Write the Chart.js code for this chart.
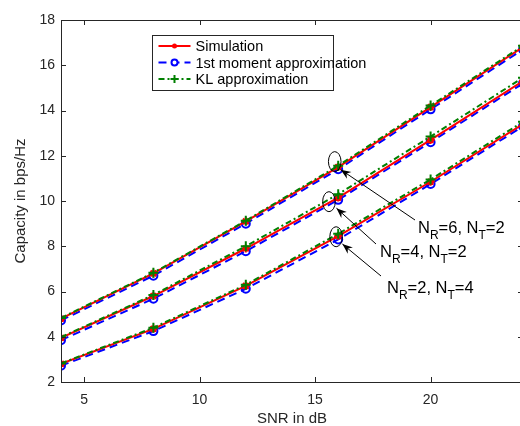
<!DOCTYPE html>
<html>
<head>
<meta charset="utf-8">
<script src="https://cdn.jsdelivr.net/npm/chart.js@4"></script>
<style>
    html, body { margin: 0; padding: 0; background: #fff; overflow: hidden; }
    #wrap { width: 520px; height: 426px; overflow: hidden; }
    #capChart { display: block; }
</style>
</head>
<body>
<div id="wrap"><canvas id="capChart" width="530" height="426" style="width:530px;height:426px"></canvas></div>
<script>
// SNR points (dB)
const snrDb = [4, 8, 12, 16, 20, 24];
const xTicks = [5, 10, 15, 20];
const yTicks = [2, 4, 6, 8, 10, 12, 14, 16, 18];

// N_R=6, N_T=2
const sim62 = [4.8, 6.8, 9.1, 11.5, 14.15, 16.8];
const mom62 = [4.72, 6.7, 9.0, 11.4, 14.05, 16.7];
const kl62 = [4.83, 6.83, 9.13, 11.56, 14.22, 16.86];
// N_R=4, N_T=2
const sim42 = [3.95, 5.8, 7.9, 10.15, 12.7, 15.3];
const mom42 = [3.85, 5.68, 7.78, 10.05, 12.6, 15.2];
const kl42 = [3.98, 5.85, 8.0, 10.3, 12.85, 15.45];
// N_R=2, N_T=4
const sim24 = [2.8, 4.35, 6.25, 8.45, 10.85, 13.4];
const mom24 = [2.72, 4.25, 6.12, 8.3, 10.75, 13.3];
const kl24 = [2.82, 4.4, 6.3, 8.55, 10.95, 13.5];

const seriesNames = ['Simulation', '1st moment approximation', 'KL approximation'];

// annotation labels: [sub R, sub T]
const annoLabels = [['6', '2'], ['4', '2'], ['2', '4']];

const FONT = '"Liberation Sans", Arial, sans-serif';

const styleSim = { borderColor: '#ff0000', backgroundColor: '#ff0000', pointStyle: 'star', pointRadius: 4, pointBorderWidth: 2, borderWidth: 2 };
const styleMom = { borderColor: '#0000ff', backgroundColor: 'rgba(0,0,0,0)', pointStyle: 'circle', pointRadius: 4, pointBorderWidth: 2, borderWidth: 2, borderDash: [8, 5] };
const styleKl = { borderColor: '#008000', backgroundColor: '#008000', pointStyle: 'cross', pointRadius: 5, pointBorderWidth: 2, borderWidth: 2, borderDash: [6, 3, 2, 3] };

const mk = (vals, style, order) => ({
    data: snrDb.map((x, i) => ({ x: x, y: vals[i] })),
    ...style,
    order: order,
    tension: 0,
    fill: false
});

const datasets = [
    mk(mom62, styleMom, 3), mk(sim62, styleSim, 2), mk(kl62, styleKl, 1),
    mk(mom42, styleMom, 3), mk(sim42, styleSim, 2), mk(kl42, styleKl, 1),
    mk(mom24, styleMom, 3), mk(sim24, styleSim, 2), mk(kl24, styleKl, 1)
];

// inward ticks + box, legend, annotations
const matlabLook = {
    id: 'matlabLook',
    afterDatasetsDraw(chart) {
        const { ctx, chartArea: a, scales } = chart;
        const xs = scales.x, ys = scales.y;
        ctx.save();
        ctx.strokeStyle = '#262626';
        ctx.lineWidth = 1;
        ctx.strokeRect(a.left + 0.5, a.top + 0.5, a.right - a.left, a.bottom - a.top);
        ctx.beginPath();
        xTicks.forEach(v => {
            const px = Math.round(xs.getPixelForValue(v)) + 0.5;
            ctx.moveTo(px, a.bottom); ctx.lineTo(px, a.bottom - 5);
            ctx.moveTo(px, a.top); ctx.lineTo(px, a.top + 5);
        });
        yTicks.forEach(v => {
            const py = Math.round(ys.getPixelForValue(v)) + 0.5;
            ctx.moveTo(a.left, py); ctx.lineTo(a.left + 5, py);
            ctx.moveTo(a.right, py); ctx.lineTo(a.right - 5, py);
        });
        ctx.stroke();

        // legend
        const lx = 152.5, ly = 35.5, lw = 181, lh = 55;
        ctx.fillStyle = '#fff';
        ctx.fillRect(lx, ly, lw, lh);
        ctx.strokeStyle = '#262626';
        ctx.strokeRect(lx, ly, lw, lh);
        const styles = [styleSim, styleMom, styleKl];
        ctx.font = '14.5px ' + FONT;
        ctx.textBaseline = 'middle';
        styles.forEach((s, i) => {
            const y = ly + 10.5 + i * 16.5;
            ctx.save();
            ctx.strokeStyle = s.borderColor;
            ctx.lineWidth = 2;
            ctx.setLineDash(s.borderDash || []);
            ctx.beginPath();
            ctx.moveTo(lx + 6, y); ctx.lineTo(lx + 38, y);
            ctx.stroke();
            ctx.setLineDash([]);
            ctx.fillStyle = s.backgroundColor;
            ctx.strokeStyle = s.borderColor;
            ctx.beginPath();
            if (s.pointStyle === 'circle') {
                ctx.fillStyle = '#fff';
                ctx.arc(lx + 22, y, 3, 0, Math.PI * 2); ctx.fill(); ctx.stroke();
            } else if (s.pointStyle === 'cross') {
                ctx.moveTo(lx + 18, y); ctx.lineTo(lx + 26, y);
                ctx.moveTo(lx + 22, y - 4); ctx.lineTo(lx + 22, y + 4); ctx.stroke();
            } else {
                ctx.arc(lx + 22, y, 2.5, 0, Math.PI * 2); ctx.fill();
            }
            ctx.restore();
            ctx.fillStyle = '#000';
            ctx.fillText(seriesNames[i], lx + 43, y + 1);
        });

        // annotations: ellipse centre in data units, arrow start and text baseline in px
        const annos = [
            { cx: 15.85, cy: 11.74, tx: 418, ty: 233, ax: 415, ay: 220, tipdx: 6, tipdy: 8 },
            { cx: 15.6, cy: 9.97, tx: 380, ty: 256.5, ax: 376, ay: 244, tipdx: 7.5, tipdy: 6.5 },
            { cx: 15.91, cy: 8.42, tx: 387, ty: 292.5, ax: 381, ay: 276, tipdx: 6.3, tipdy: 7.3 }
        ];
        annos.forEach((an, i) => {
            const ex = xs.getPixelForValue(an.cx), ey = ys.getPixelForValue(an.cy);
            ctx.strokeStyle = '#000';
            ctx.lineWidth = 1;
            ctx.beginPath();
            ctx.ellipse(ex, ey, 6.3, 10, 0, 0, Math.PI * 2);
            ctx.stroke();
            const tipx = ex + an.tipdx, tipy = ey + an.tipdy;
            ctx.beginPath();
            ctx.moveTo(an.ax, an.ay); ctx.lineTo(tipx, tipy);
            ctx.stroke();
            const ang = Math.atan2(tipy - an.ay, tipx - an.ax);
            ctx.fillStyle = '#000';
            ctx.beginPath();
            ctx.moveTo(tipx, tipy);
            ctx.lineTo(tipx - 11 * Math.cos(ang - 0.38), tipy - 11 * Math.sin(ang - 0.38));
            ctx.lineTo(tipx - 7 * Math.cos(ang), tipy - 7 * Math.sin(ang));
            ctx.lineTo(tipx - 11 * Math.cos(ang + 0.38), tipy - 11 * Math.sin(ang + 0.38));
            ctx.closePath();
            ctx.fill();

            // N_R=a, N_T=b
            let x = an.tx;
            const parts = [['N', 16.5, 0], ['R', 12, 6], ['=' + annoLabels[i][0] + ', N', 16.5, 0], ['T', 12, 6], ['=' + annoLabels[i][1], 16.5, 0]];
            ctx.textBaseline = 'alphabetic';
            parts.forEach(p => {
                ctx.font = p[1] + 'px ' + FONT;
                ctx.fillText(p[0], x, an.ty + p[2]);
                x += ctx.measureText(p[0]).width;
            });
        });
        ctx.restore();
    }
};

new Chart(document.getElementById('capChart').getContext('2d'), {
    type: 'line',
    data: { datasets: datasets },
    options: {
        responsive: false,
        animation: false,
        layout: { padding: { top: 20, right: 6, left: 0, bottom: 0 } },
        plugins: { legend: { display: false }, tooltip: { enabled: false } },
        scales: {
            x: {
                type: 'linear', min: 4, max: 24,
                afterBuildTicks: (s) => { s.ticks = xTicks.map(v => ({ value: v })); },
                afterFit: (s) => { s.height = 44; s.paddingLeft = 0; s.paddingRight = 0; },
                grid: { display: false, drawTicks: false },
                border: { display: false },
                ticks: { color: '#262626', font: { family: FONT, size: 14 }, padding: 10, maxRotation: 0 },
                title: { display: true, text: 'SNR in dB', color: '#262626', font: { family: FONT, size: 15, lineHeight: 1 }, padding: { top: 0, bottom: 0 } }
            },
            y: {
                min: 2, max: 18,
                afterBuildTicks: (s) => { s.ticks = yTicks.map(v => ({ value: v })); },
                afterFit: (s) => { s.width = 61; s.paddingTop = 0; s.paddingBottom = 0; },
                grid: { display: false, drawTicks: false },
                border: { display: false },
                ticks: { color: '#262626', font: { family: FONT, size: 14 }, padding: 6 },
                title: { display: true, text: 'Capacity in bps/Hz', color: '#262626', font: { family: FONT, size: 15 }, padding: { top: 12, bottom: 0 } }
            }
        }
    },
    plugins: [matlabLook]
});
</script>
</body>
</html>
